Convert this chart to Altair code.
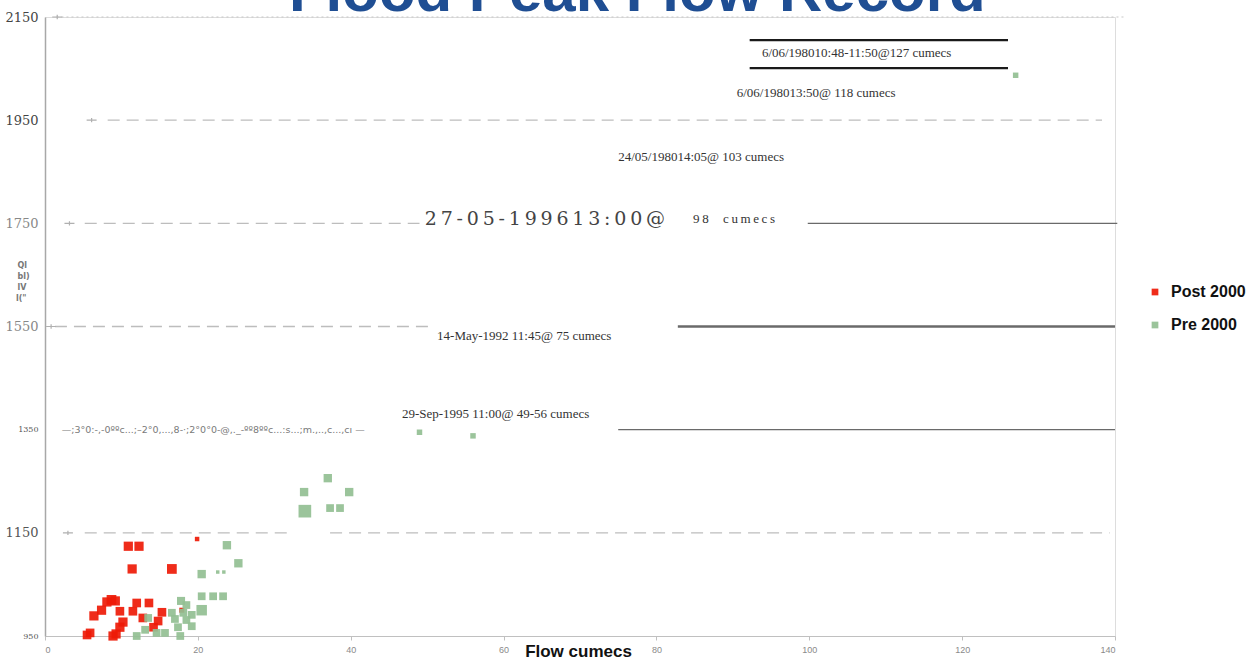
import altair as alt
import pandas as pd

# ---- gauge readings: flow (cumecs) against stage level ----
post_x = [10.9, 12.3, 19.9, 11.4, 16.6, 8.1, 8.7, 9.2, 7.4, 6.4, 9.8, 11.5, 12.0, 13.6,
          15.3, 12.8, 14.8, 14.2, 10.2, 9.8, 9.3, 8.9, 5.9, 5.5, 17.9]
post_y = [1124, 1124, 1138, 1080, 1080, 1016, 1020, 1018, 1000, 989, 998, 998, 1014, 1014,
          996, 985, 979, 967, 977, 967, 954, 950, 956, 952, 1000]
post_s = [85, 85, 20, 85, 95, 85, 95, 85, 85, 85, 75, 75, 75, 75,
          75, 75, 75, 75, 85, 85, 85, 85, 75, 75, 25]

pre_x = [127, 49, 56, 37.0, 33.9, 39.8, 34.0, 37.3, 38.6, 23.8, 25.3, 20.5, 22.6, 23.4,
         20.5, 22.0, 23.3, 20.5, 17.8, 18.5, 16.6, 18.1, 19.2, 17.0, 18.5, 19.2, 17.4,
         13.5, 14.6, 15.7, 17.7, 12.0, 13.1]
pre_y = [2037, 1345, 1338, 1256, 1229, 1229, 1192, 1198, 1198, 1126, 1091, 1070, 1074, 1074,
         1027, 1027, 1027, 1000, 1018, 1010, 995, 995, 991, 983, 981, 969, 967,
         985, 956, 956, 950, 950, 962]
pre_s = [30, 30, 30, 70, 70, 70, 160, 60, 60, 70, 70, 70, 12, 12,
         60, 60, 60, 110, 65, 60, 60, 60, 60, 60, 60, 60, 60,
         60, 60, 60, 60, 60, 60]

series_names = ["Post 2000", "Pre 2000"]
series_colors = ["#ee1a06", "#93bf92"]

x_ticks = [0, 20, 40, 60, 80, 100, 120, 140]
y_ticks = [950, 1150, 1350, 1550, 1750, 1950, 2150]

# ---- historic flood levels ----
dotted_lvl = [2150]
dotted_x1 = [1.5]
dotted_x2 = [141.3]

dashed_lvl = [1950, 1750, 1550, 1150, 1150]
dashed_x1 = [8.2, 5.2, 1.3, 5.2, 37.3]
dashed_x2 = [138.3, 49.0, 50.4, 32.0, 139.3]

solid_lvl = [1750, 1550, 1350]
solid_x1 = [99.8, 82.8, 75.0]
solid_x2 = [140.3, 140.0, 140.0]
solid_w = [1.4, 2.6, 1.4]

bar_lvl = [2105, 2051]
bar_x1 = [92.2, 92.2]
bar_x2 = [126.0, 126.0]

cross_x = [1.6, 6.1, 3.2, 0.8, 3.0]
cross_y = [2150, 1950, 1750, 1550, 1150]

note_text = ["6/06/198010:48-11:50@127 cumecs", "6/06/198013:50@ 118 cumecs",
             "24/05/198014:05@ 103 cumecs", "\u2009".join("98  cumecs"),
             "14-May-1992  11:45@ 75 cumecs", "29-Sep-1995 11:00@ 49-56 cumecs"]
note_x = [93.8, 90.5, 75.0, 84.8, 51.3, 46.7]
note_y = [2080, 2002, 1878, 1758, 1531, 1380]

# letter-spaced heading of the 1996 flood note (thin spaces between glyphs)
big_note = ["\u2009".join("27-05-199613:00@")]
big_note_x = [49.7]
big_note_y = [1758]

smudge_text = ["—;3°0:-,-0ººc...;–2°0,...,8-·;2°0°0-@,._-ºº8ººc...:s...;m.,..,c...,cı  —"]
smudge_x = [2.2]
smudge_y = [1350]

ylab_lines = ["Ql", "bl)", "lV", "l(\""]
ylab_x = [-3.6, -3.6, -3.6, -3.8]
ylab_y = [1667, 1646, 1624, 1603]

heading = ["Flood Peak Flow Record"]
heading_x = [77.5]
heading_y = [2162]

# ---- tables ----
pts = pd.DataFrame({
    "flow": post_x + pre_x,
    "level": post_y + pre_y,
    "size": post_s + pre_s,
    "series": ["Post 2000"] * len(post_x) + ["Pre 2000"] * len(pre_x),
})
dotted = pd.DataFrame({"y": dotted_lvl, "x1": dotted_x1, "x2": dotted_x2})
dashed = pd.DataFrame({"y": dashed_lvl, "x1": dashed_x1, "x2": dashed_x2})
solid = pd.DataFrame({"y": solid_lvl, "x1": solid_x1, "x2": solid_x2, "w": solid_w})
bars = pd.DataFrame({"y": bar_lvl, "x1": bar_x1, "x2": bar_x2})
crosses = pd.DataFrame({"x": cross_x, "y": cross_y})
notes = pd.DataFrame({"x": note_x, "y": note_y, "t": note_text})
big = pd.DataFrame({"x": big_note_x, "y": big_note_y, "t": big_note})
smudge = pd.DataFrame({"x": smudge_x, "y": smudge_y, "t": smudge_text})
ylab = pd.DataFrame({"x": ylab_x, "y": ylab_y, "t": ylab_lines})
head = pd.DataFrame({"x": heading_x, "y": heading_y, "t": heading})

xs = alt.Scale(domain=[0, 140], nice=False, zero=False)
ys = alt.Scale(domain=[950, 2150], nice=False, zero=False)

x_axis = alt.Axis(
    values=x_ticks, grid=False, labelFont="Liberation Sans", labelFontSize=9,
    labelColor="#8a8a8a", tickColor="#c0c0c0", tickSize=4, domainColor="#c0c0c0",
    labelPadding=5, title="Flow cumecs", titleFont="Liberation Sans",
    titleFontSize=17, titleFontWeight="bold", titleColor="#111",
    titleX=533, titleY=15, titleBaseline="middle",
)
y_axis = alt.Axis(
    values=y_ticks, grid=False, ticks=False, domainColor="#a8a8a8", domainWidth=1.5,
    format="d", labelFont="DejaVu Serif", labelPadding=7,
    labelFontSize=alt.expr("datum.value == 1350 || datum.value == 950 ? 8 : 13"),
    labelColor=alt.expr(
        "datum.value >= 1950 ? '#444' : (datum.value >= 1550 ? '#888' : '#555')"),
    title=None,
)

scatter = alt.Chart(pts).mark_square(opacity=0.92).encode(
    x=alt.X("flow:Q", scale=xs, axis=x_axis),
    y=alt.Y("level:Q", scale=ys, axis=y_axis),
    color=alt.Color("series:N",
                    scale=alt.Scale(domain=series_names, range=series_colors),
                    legend=alt.Legend(orient="none", legendX=1102, legendY=267,
                                      title=None, symbolType="square", symbolSize=45,
                                      labelFont="Liberation Sans", labelFontSize=16,
                                      labelFontWeight="bold", labelColor="#111",
                                      rowPadding=17, labelOffset=8)),
    size=alt.Size("size:Q", scale=None),
)

dotted_l = alt.Chart(dotted).mark_rule(color="#c8c8c8", strokeWidth=1.2,
                                       strokeDash=[2, 3]).encode(
    x="x1:Q", x2="x2:Q", y="y:Q")
dashed_l = alt.Chart(dashed).mark_rule(color="#bdbdbd", strokeWidth=1.4,
                                       strokeDash=[12, 7]).encode(
    x="x1:Q", x2="x2:Q", y="y:Q")
solid_l = alt.Chart(solid).mark_rule(color="#6a6a6a").encode(
    x="x1:Q", x2="x2:Q", y="y:Q", strokeWidth=alt.StrokeWidth("w:Q", scale=None))
bars_l = alt.Chart(bars).mark_rule(color="#1a1a1a", strokeWidth=2.2).encode(
    x="x1:Q", x2="x2:Q", y="y:Q")
cross_l = alt.Chart(crosses).mark_point(
    shape="M-0.5,0H0.5M0,-0.22V0.22", filled=False, color="#b0b0b0",
    strokeWidth=1.2, size=400, opacity=1).encode(x="x:Q", y="y:Q")

notes_l = alt.Chart(notes).mark_text(
    align="left", baseline="middle", font="Liberation Serif", fontSize=13,
    color="#333").encode(x="x:Q", y="y:Q", text="t:N")
big_l = alt.Chart(big).mark_text(
    align="left", baseline="middle", font="DejaVu Serif", fontSize=19,
    color="#444").encode(x="x:Q", y="y:Q", text="t:N")
smudge_l = alt.Chart(smudge).mark_text(
    align="left", baseline="middle", font="DejaVu Sans", fontSize=9.5,
    color="#7a7a7a").encode(x="x:Q", y="y:Q", text="t:N")
ylab_l = alt.Chart(ylab).mark_text(
    align="left", baseline="middle", font="DejaVu Sans", fontSize=8,
    fontWeight="bold", color="#777").encode(x="x:Q", y="y:Q", text="t:N")
head_l = alt.Chart(head).mark_text(
    align="center", baseline="alphabetic", font="Liberation Sans", fontSize=60,
    fontWeight="bold", color="#1f4e93").encode(x="x:Q", y="y:Q", text="t:N")

chart = alt.layer(
    dotted_l, dashed_l, solid_l, bars_l, cross_l, head_l,
    notes_l, big_l, smudge_l, ylab_l, scatter,
).properties(
    width=1070, height=619,
    autosize=alt.AutoSizeParams(type="none"),
    padding={"left": 45, "top": 17, "right": 141, "bottom": 28},
).configure_view(stroke=None, clip=False).configure(background="white")

chart.save("out.html", embed_options={"renderer": "svg", "actions": False})
